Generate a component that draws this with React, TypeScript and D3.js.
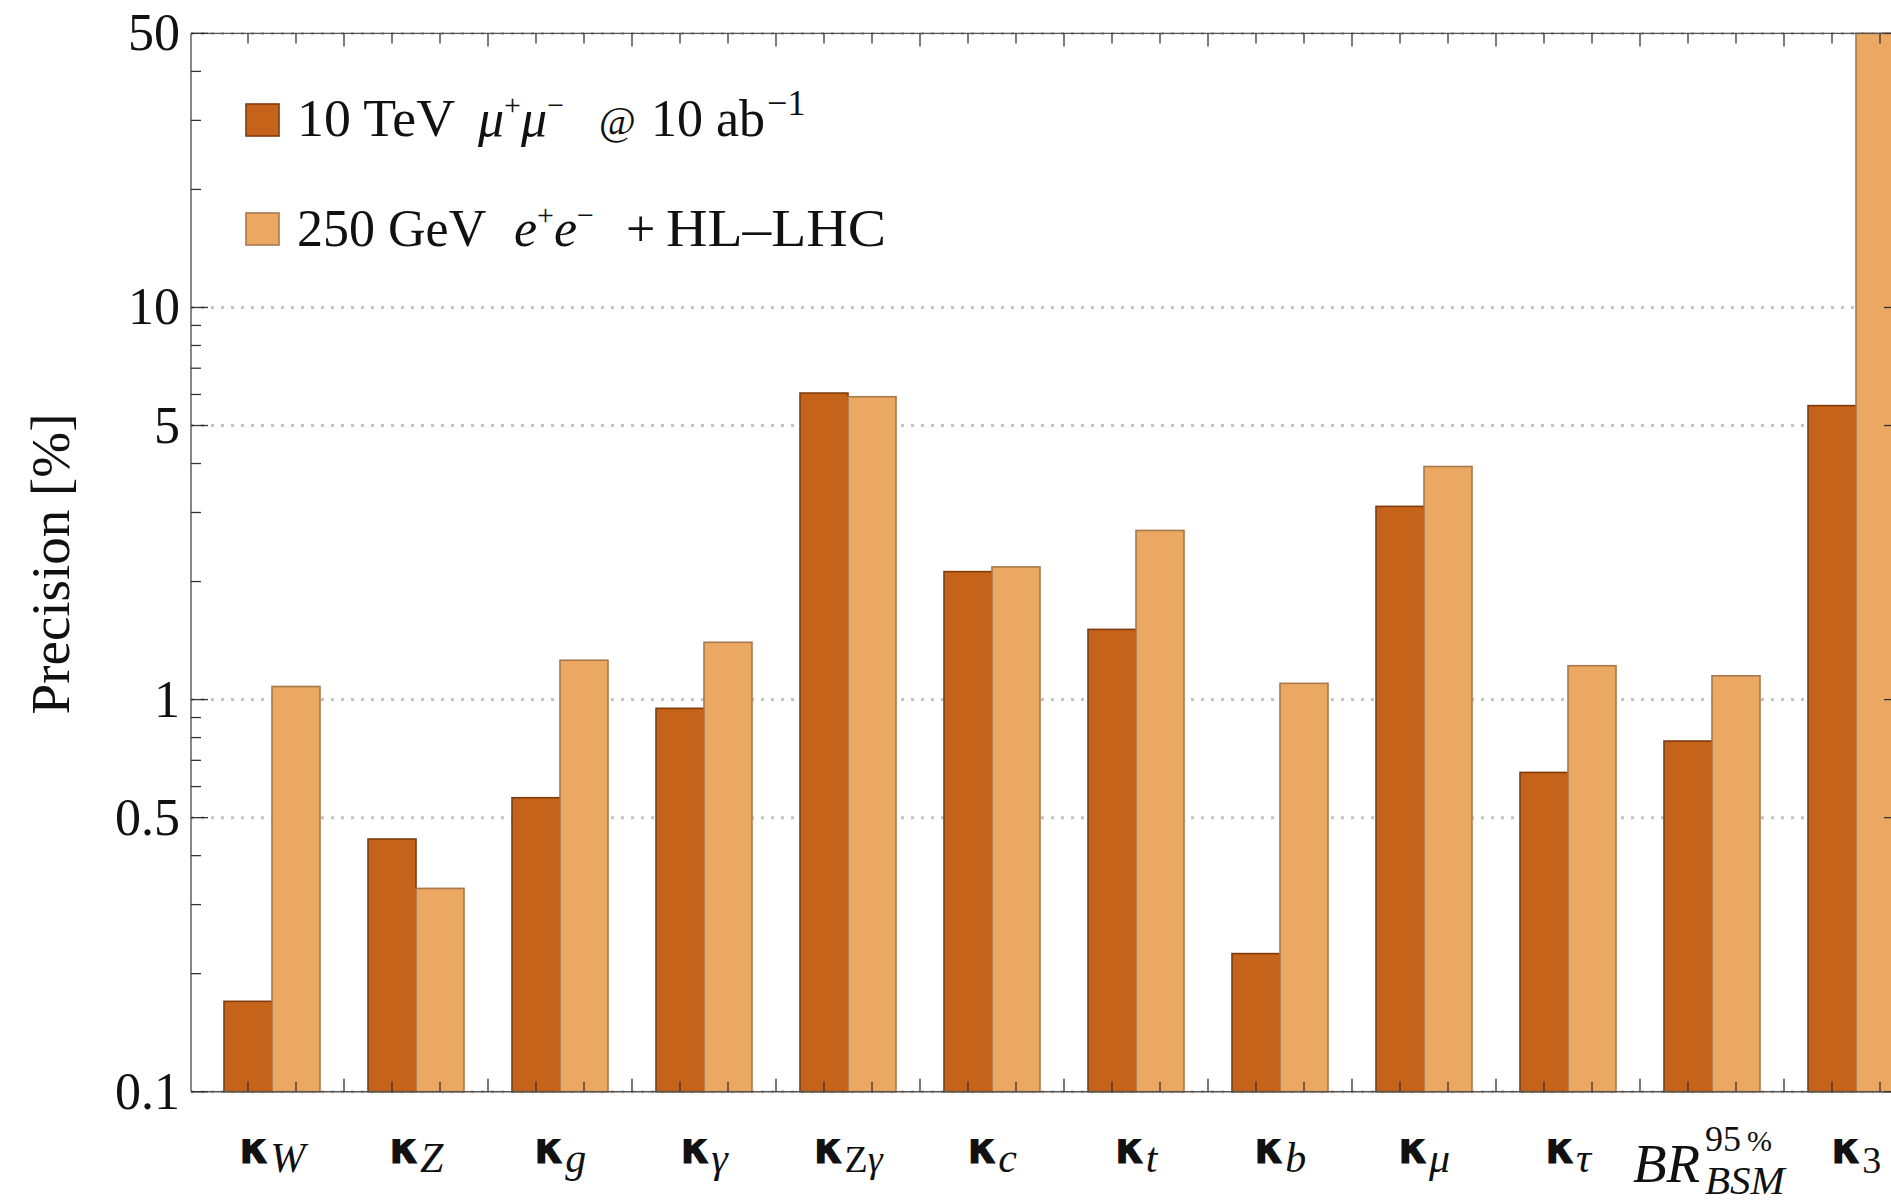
import React from "react";
import * as d3 from "d3";

// ---- data ----
const categories = ["kW", "kZ", "kg", "kgamma", "kZgamma", "kc", "kt", "kb", "kmu", "ktau", "BR", "k3"];
const labelSubs = ["W", "Z", "g", "γ", "Zγ", "c", "t", "b", "μ", "τ", "", "3"];
const muonValues = [0.170, 0.441, 0.562, 0.95, 6.05, 2.12, 1.51, 0.225, 3.11, 0.652, 0.784, 5.62];
const eeValues = [1.08, 0.33, 1.26, 1.40, 5.92, 2.18, 2.70, 1.10, 3.93, 1.22, 1.15, 50];
const seriesKeys = ["mu", "ee"];
const majorTicks = [0.1, 0.5, 1, 5, 10, 50];
const majorTickLabels = ["0.1", "0.5", "1", "5", "10", "50"];
const minorTicks = [0.2, 0.3, 0.4, 0.6, 0.7, 0.8, 0.9, 2, 3, 4, 6, 7, 8, 9, 20, 30, 40];

const W = 1891;
const H = 1202;
const SERIF = "'Liberation Serif', 'Times New Roman', serif";
const SANS = "'DejaVu Sans', sans-serif";

const fills = { mu: "#C5631A", ee: "#EBA862" };
const strokes = { mu: "#7E3C0E", ee: "#A8774C" };

export default function App() {
  const xL = 191;
  const xR = 1903;
  const yT = 33.4;
  const yB = 1091.7;

  const y = d3.scaleLog().domain([0.1, 50]).range([yB, yT]);
  const x = d3
    .scaleBand<string>()
    .domain(categories)
    .range([224, 1904])
    .paddingInner(1 / 3)
    .paddingOuter(0);
  const xs = d3.scaleBand<string>().domain(seriesKeys).range([0, x.bandwidth()]);
  const bw = xs.bandwidth();

  const rows = categories.map((c, i) => ({ c, mu: muonValues[i], ee: eeValues[i] }));

  // x ticks: bar centres (short) and gap centres (long)
  const barTicks: number[] = [];
  const gapTicks: number[] = [];
  categories.forEach((c, i) => {
    const x0 = x(c)!;
    seriesKeys.forEach((k) => barTicks.push(x0 + xs(k)! + bw / 2));
    if (i < categories.length - 1) gapTicks.push(x0 + x.bandwidth() + (x.step() - x.bandwidth()) / 2);
  });

  const tickColor = "#333";
  const frameColor = "#555";
  const txt = "#111";

  return (
    <svg
      width={W}
      height={H}
      viewBox={`0 0 ${W} ${H}`}
      style={{ position: "absolute", left: 0, top: 0, background: "#fff" }}
    >
      <rect x={0} y={0} width={W} height={H} fill="#fff" />
      {/* gridlines */}
      {majorTicks.map((t) => (
        <line
          key={"g" + t}
          x1={xL}
          x2={xR}
          y1={y(t)}
          y2={y(t)}
          stroke="#c4c4c4"
          strokeWidth={3}
          strokeDasharray="3 7"
        />
      ))}
      {/* bars */}
      {rows.map((r) =>
        seriesKeys.map((k) => {
          const v = (r as any)[k] as number;
          const top = y(v);
          return (
            <rect
              key={r.c + k}
              x={x(r.c)! + xs(k)!}
              y={top}
              width={bw}
              height={yB - top}
              fill={(fills as any)[k]}
              stroke={(strokes as any)[k]}
              strokeWidth={1.6}
            />
          );
        })
      )}
      {/* frame */}
      <g stroke={frameColor} strokeWidth={1.4} fill="none">
        <line x1={xL} x2={xR} y1={yT} y2={yT} />
        <line x1={xL} x2={xR} y1={yB} y2={yB} />
        <line x1={xL} x2={xL} y1={yT} y2={yB} />
        <line x1={xR} x2={xR} y1={yT} y2={yB} />
      </g>
      {/* ticks */}
      <g stroke={tickColor} strokeWidth={1.3}>
        {majorTicks.map((t) => (
          <g key={"mt" + t}>
            <line x1={xL} x2={xL + 17} y1={y(t)} y2={y(t)} />
            <line x1={xR} x2={xR - 19} y1={y(t)} y2={y(t)} />
          </g>
        ))}
        {minorTicks.map((t) => (
          <g key={"nt" + t}>
            <line x1={xL} x2={xL + 10} y1={y(t)} y2={y(t)} />
            <line x1={xR} x2={xR - 12} y1={y(t)} y2={y(t)} />
          </g>
        ))}
        {barTicks.map((t, i) => (
          <g key={"bt" + i}>
            <line x1={t} x2={t} y1={yB} y2={yB - 10} />
            <line x1={t} x2={t} y1={yT} y2={yT + 10} />
          </g>
        ))}
        {gapTicks.map((t, i) => (
          <g key={"gt" + i}>
            <line x1={t} x2={t} y1={yB} y2={yB - 13} />
            <line x1={t} x2={t} y1={yT} y2={yT + 13} />
          </g>
        ))}
      </g>
      {/* y tick labels */}
      {majorTicks.map((t, i) => (
        <text
          key={"yl" + t}
          x={180}
          y={y(t) + 17}
          textAnchor="end"
          fontFamily={SERIF}
          fontSize={52}
          fill={txt}
        >
          {majorTickLabels[i]}
        </text>
      ))}
      {/* y title */}
      <text
        transform="translate(69,564) rotate(-90)"
        textAnchor="middle"
        fontFamily={SERIF}
        fontSize={55}
        fill={txt}
      >
        Precision [%]
      </text>
      {/* x labels */}
      {categories.map((c, i) => {
        const cx = x(c)! + x.bandwidth() / 2;
        if (c === "BR") {
          return (
            <g key={"xl" + c} fontFamily={SERIF} fill={txt}>
              <text x={cx - 79} y={1182} fontSize={55} fontStyle="italic">
                BR
              </text>
              <text x={cx - 7} y={1151} fontSize={36}>
                95<tspan fontSize={30} dx={6}>%</tspan>
              </text>
              <text x={cx - 7} y={1194} fontSize={41} fontStyle="italic">
                BSM
              </text>
            </g>
          );
        }
        const sub = labelSubs[i];
        const isDigit = /^[0-9]$/.test(sub);
        return (
          <text key={"xl" + c} x={cx} y={1163} textAnchor="middle" fill={txt}>
            <tspan fontFamily={SANS} fontWeight="bold" fontSize={44}>
              κ
            </tspan>
            {sub === "Zγ" ? (
              <>
                <tspan fontFamily={SERIF} fontSize={38} dy={9}>
                  Z
                </tspan>
                <tspan fontFamily={SERIF} fontSize={38} fontStyle="italic">
                  γ
                </tspan>
              </>
            ) : (
              <tspan
                fontFamily={SERIF}
                fontSize={isDigit ? 38 : 42}
                fontStyle={isDigit ? "normal" : "italic"}
                dy={isDigit ? 10 : 9}
              >
                {sub}
              </tspan>
            )}
          </text>
        );
      })}
      {/* legend */}
      <g>
        <rect x={246} y={104} width={33} height={32} fill={fills.mu} stroke={strokes.mu} strokeWidth={1.6} />
        <rect x={246} y={213} width={33} height={32} fill={fills.ee} stroke={strokes.ee} strokeWidth={1.6} />
        <text y={136} fontFamily={SERIF} fontSize={52} fill={txt}>
          <tspan x={297} textLength={158} lengthAdjust="spacingAndGlyphs">10 TeV</tspan>
          <tspan x={478} fontStyle="italic">μ</tspan>
          <tspan fontSize={30} dy={-21}>+</tspan>
          <tspan fontStyle="italic" dy={21}>μ</tspan>
          <tspan fontSize={30} dy={-21}>−</tspan>
          <tspan x={599} dy={19} fontSize={40}>@</tspan>
          <tspan x={651} dy={2}>10 ab</tspan>
          <tspan fontSize={36} dx={2} dy={-21}>−1</tspan>
        </text>
        <text y={246} fontFamily={SERIF} fontSize={52} fill={txt}>
          <tspan x={297}>250 GeV</tspan>
          <tspan x={514} fontStyle="italic">e</tspan>
          <tspan fontSize={30} dy={-21}>+</tspan>
          <tspan fontStyle="italic" dy={21}>e</tspan>
          <tspan fontSize={30} dy={-21}>−</tspan>
          <tspan x={626} dy={21}>+</tspan>
          <tspan x={666} textLength={220} lengthAdjust="spacingAndGlyphs">HL–LHC</tspan>
        </text>
      </g>
    </svg>
  );
}
